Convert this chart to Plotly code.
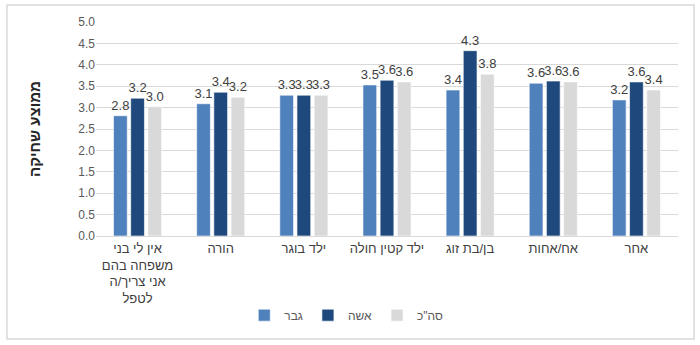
import plotly.graph_objects as go

categories = [
    "אין לי בני<br>משפחה בהם<br>אני צריך/ה<br>לטפל",
    "הורה",
    "ילד בוגר",
    "ילד קטין חולה",
    "בן/בת זוג",
    "אח/אחות",
    "אחר",
]
series_names = ["גבר", "אשה", 'סה"כ']
men = [2.81, 3.09, 3.29, 3.53, 3.41, 3.57, 3.18]
women = [3.22, 3.36, 3.29, 3.64, 4.33, 3.62, 3.60]
total = [3.02, 3.24, 3.29, 3.60, 3.78, 3.60, 3.41]
colors = ["#4F81BD", "#1F497D", "#D9D9D9"]
y_ticks = [0, 0.5, 1, 1.5, 2, 2.5, 3, 3.5, 4, 4.5, 5]

FONT = "Liberation Sans, Arial, DejaVu Sans, sans-serif"

fig = go.Figure()
for name, vals, col in zip(series_names, [men, women, total], colors):
    fig.add_trace(go.Bar(
        x=categories, y=vals, name=name,
        marker=dict(color=col, line=dict(color="rgba(255,255,255,0.6)", width=1)),
        text=[f"{v:.1f}" for v in vals],
        textposition="outside",
        constraintext="none",
        textfont=dict(size=13, color="#404040", family=FONT),
        cliponaxis=False,
    ))

fig.update_layout(
    width=700, height=345,
    margin=dict(l=96, r=22, t=22, b=109),
    paper_bgcolor="white", plot_bgcolor="white",
    barmode="group", bargap=0.38, bargroupgap=0.2,
    font=dict(family=FONT, size=12, color="#595959"),
    showlegend=True,
    legend=dict(orientation="h", x=0.43, xanchor="center", y=-0.37, yanchor="middle",
                font=dict(size=12, color="#595959", family=FONT),
                itemwidth=30, traceorder="normal", tracegroupgap=0),
    xaxis=dict(showline=True, linecolor="#D9D9D9", linewidth=1, ticks="",
               tickfont=dict(size=13, color="#404040", family=FONT), tickangle=0),
    yaxis=dict(range=[0, 5], tickvals=y_ticks, ticktext=[f"{t:.1f}" for t in y_ticks],
               showgrid=True, gridcolor="#D9D9D9", gridwidth=1, zeroline=False,
               tickfont=dict(size=12, color="#595959", family=FONT),
               title=dict(text="<b>ממוצע שחיקה</b>", font=dict(size=15, color="#262626", family=FONT),
                          standoff=34)),
    shapes=[dict(type="rect", xref="paper", yref="paper",
                 x0=-0.153, x1=1.0275, y0=-0.481, y1=1.079,
                 line=dict(color="#D9D9D9", width=1.5), fillcolor="rgba(0,0,0,0)", layer="below")],
)

fig.write_html("out.html")
